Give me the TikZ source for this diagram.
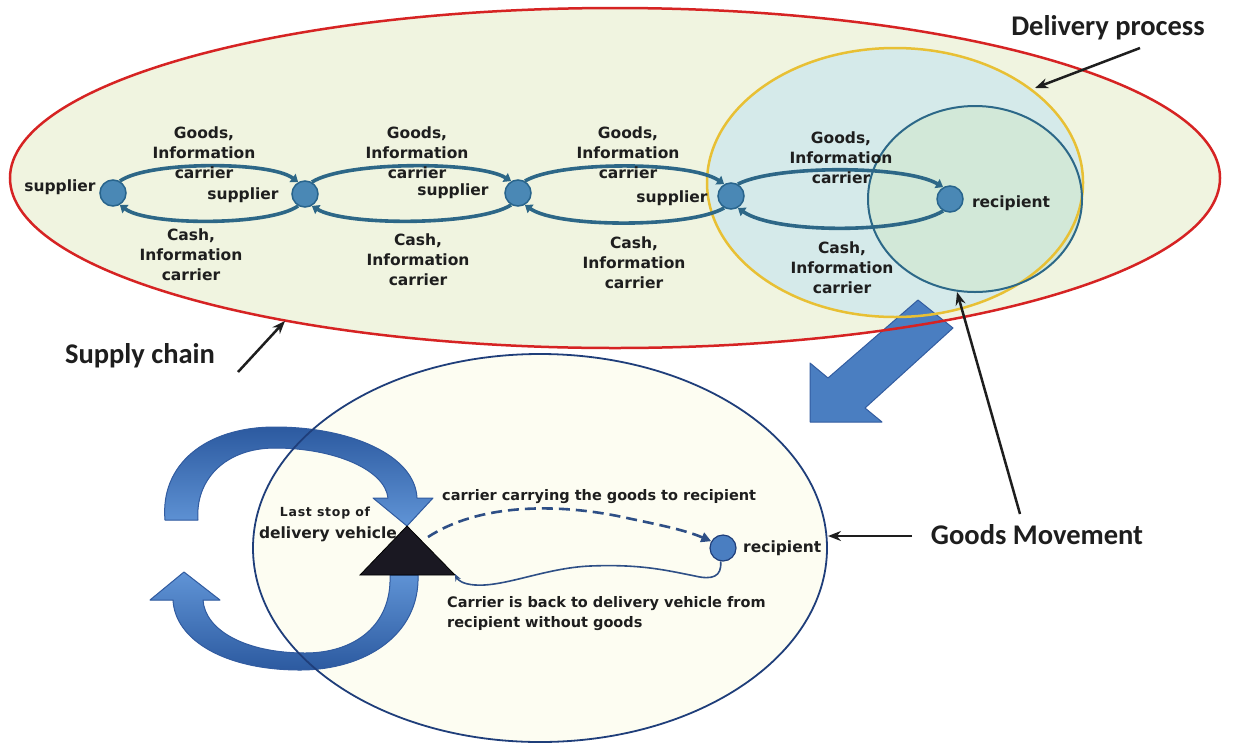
\documentclass[tikz,border=0pt]{standalone}
\usepackage{fontspec}
\setmainfont{DejaVu Sans}
\newfontfamily\bigfont{Carlito}
\usetikzlibrary{arrows.meta}
\definecolor{redE}{RGB}{214,35,35}
\definecolor{fillTop}{RGB}{240,244,224}
\definecolor{yelE}{RGB}{232,192,52}
\definecolor{fillDel}{RGB}{213,234,234}
\definecolor{fillRec}{RGB}{210,232,216}
\definecolor{recE}{RGB}{44,104,136}
\definecolor{loopC}{RGB}{45,103,135}
\definecolor{nodeF}{RGB}{74,136,181}
\definecolor{nodeE}{RGB}{40,100,140}
\definecolor{arrF}{RGB}{74,126,193}
\definecolor{arrD}{RGB}{44,90,160}
\definecolor{arrL}{RGB}{96,148,214}
\definecolor{arrE}{RGB}{50,92,160}
\definecolor{botF}{RGB}{253,253,242}
\definecolor{botE}{RGB}{31,62,122}
\definecolor{txt}{RGB}{30,30,30}
\definecolor{dashC}{RGB}{46,79,134}
\tikzset{
  lbl/.style={font=\bfseries\fontsize{15.5}{20}\selectfont, text=txt, align=center, inner sep=0pt},
  smlbl/.style={font=\bfseries\fontsize{14.5}{20}\selectfont, text=txt, align=left, inner sep=0pt},
  biglbl/.style={font=\bigfont\bfseries\fontsize{28.5}{30}\selectfont, text=txt, inner sep=0pt},
  dot/.style={circle, fill=nodeF, draw=nodeE, line width=1.5pt, minimum size=26pt, inner sep=0pt},
  flow/.style={draw=loopC, line width=3.6pt, -{Triangle[length=7pt,width=10pt]}},
  pointer/.style={draw=txt, line width=2.5pt, -{Stealth[length=13pt,width=10pt]}},
  blockarrow/.style={fill=arrF, draw=arrE, line width=1pt, line join=round}
}
\begin{document}
\begin{tikzpicture}[x=1pt,y=-1pt]
\useasboundingbox (0,0) rectangle (1238,745);
\fill[white] (0,0) rectangle (1238,745);

% ---------- top: supply chain ----------
\fill[fillTop] (615,178) ellipse[x radius=605, y radius=170];
\fill[fillDel] (895,182.5) ellipse[x radius=188, y radius=134.5];
\fill[fillRec] (975,199) ellipse[x radius=107, y radius=93];

% big block arrow
\draw[blockarrow] (810,363) -- (828,378) -- (918,300) -- (953,328) -- (865,408) -- (882,422) -- (810,422) -- cycle;

\draw[redE, line width=2.5pt] (615,178) ellipse[x radius=605, y radius=170];
\draw[yelE, line width=2.5pt] (895,182.5) ellipse[x radius=188, y radius=134.5];
\draw[recE, line width=2pt] (975,199) ellipse[x radius=107, y radius=93];

\coordinate (redPt) at (285,321);
\coordinate (yelPt) at (1035,88);
\coordinate (recPt) at (957,292);

% nodes
\node[dot] (n1) at (113,193) {};
\node[dot] (n2) at (305,194) {};
\node[dot] (n3) at (518,193) {};
\node[dot] (n4) at (731,196) {};
\node[dot] (rc) at (950,199) {};

% flows
\draw[flow] (n1.60) .. controls (148,161) and (270,161) .. (n2.120);
\draw[flow] (n2.-120) .. controls (270,226) and (148,226) .. (n1.-60);
\draw[flow] (n2.60) .. controls (345,161) and (478,161) .. (n3.120);
\draw[flow] (n3.-120) .. controls (478,226) and (345,226) .. (n2.-60);
\draw[flow] (n3.60) .. controls (558,161) and (690,161) .. (n4.120);
\draw[flow] (n4.-120) .. controls (690,228) and (558,228) .. (n3.-60);
\draw[flow] (n4.60) .. controls (775,165) and (905,165) .. (rc.120);
\draw[flow] (rc.-120) .. controls (905,234) and (775,234) .. (n4.-60);

% labels
\node[lbl] (g1) at (204,153) {Goods,\\Information\\carrier};
\node[lbl] (g2) at (417,153) {Goods,\\Information\\carrier};
\node[lbl] (g3) at (628,153) {Goods,\\Information\\carrier};
\node[lbl] (g4) at (841,158) {Goods,\\Information\\carrier};
\node[lbl] (c1) at (191,255) {Cash,\\Information\\carrier};
\node[lbl] (c2) at (418,260) {Cash,\\Information\\carrier};
\node[lbl] (c3) at (634,263) {Cash,\\Information\\carrier};
\node[lbl] (c4) at (842,268) {Cash,\\Information\\carrier};
\node[lbl] (s1) at (60,187) {supplier};
\node[lbl] (s2) at (243,195) {supplier};
\node[lbl] (s3) at (453,191) {supplier};
\node[lbl] (s4) at (672,198) {supplier};
\node[lbl] (r1) at (1011,203) {recipient};

% big labels
\node[biglbl] (dp) at (1108,28) {Delivery process};
\node[biglbl] (sc) at (140,356) {Supply chain};
\node[biglbl] (gm) at (1037,535) {Goods Movement};
\coordinate (dpS) at (1140,48);
\coordinate (scS) at (238,372);
\coordinate (gmS) at (1020,514);
\coordinate (gmW) at (912,536);
\draw[pointer] (dpS) -- (yelPt);
\draw[pointer] (scS) -- (redPt);
\draw[pointer] (gmS) -- (recPt);

% ---------- bottom: goods movement ----------
\fill[botF] (540,548) ellipse[x radius=287, y radius=194];

% circular arrows
\draw[blockarrow, top color=arrD, bottom color=arrL] (165,520) .. controls (160,465) and (205,427) .. (275,427)
  .. controls (350,427) and (415,455) .. (417,498) -- (433,498) -- (407,526) -- (373,498) -- (388,498)
  .. controls (385,470) and (335,448) .. (275,448)
  .. controls (225,448) and (195,480) .. (198,520) -- cycle;
\draw[blockarrow, top color=arrL, bottom color=arrD] (390,575) -- (418,575) .. controls (420,635) and (365,670) .. (300,670)
  .. controls (225,670) and (175,640) .. (173,600) -- (150,600) -- (184,572) -- (220,600) -- (203,600)
  .. controls (205,630) and (245,653) .. (305,653)
  .. controls (355,653) and (392,625) .. (390,575) -- cycle;

\draw[botE, line width=1.8pt] (540,548) ellipse[x radius=287, y radius=194];
\coordinate (botPt) at (828,536);
\draw[pointer] (gmW) -- (botPt);

% triangle (last stop)
\draw[fill={rgb,255:red,26;green,24;blue,34}, draw=black, line width=0.8pt] (360,575) -- (407,526) -- (455,575) -- cycle;
\coordinate (triR) at (428,537);
\coordinate (triB) at (455,574);

\node[circle, fill=arrF, draw=botE, line width=1.2pt, minimum size=26pt, inner sep=0pt] (rb) at (723,548) {};

\draw[dashC, line width=2.6pt, dash pattern=on 11pt off 6pt, -{Triangle[length=10pt,width=10pt]}]
  (triR) .. controls (480,503) and (560,503) .. (627,518) .. controls (660,525) and (685,530) .. (rb.150);
\draw[dashC, line width=1.6pt, -{Stealth[length=7pt,width=6pt]}]
  (rb.-100) .. controls (722,577) and (712,580) .. (695,576)
  .. controls (665,570) and (640,564) .. (590,566)
  .. controls (545,568) and (505,587) .. (475,585)
  .. controls (462,584) and (458,580) .. (triB);

\node[font=\bfseries\fontsize{12.5}{14}\selectfont\addfontfeature{LetterSpace=6}, text=txt, inner sep=0pt] (ls) at (325,513) {Last stop of};
\node[lbl] (dv) at (328,534) {delivery vehicle};
\node[smlbl, anchor=west] (cc) at (442,497) {carrier carrying the goods to recipient};
\node[lbl, anchor=west] (r2) at (743,548) {recipient};
\node[smlbl, anchor=north west] (cb) at (447,596) {Carrier is back to delivery vehicle from\\recipient without goods};
\end{tikzpicture}
\end{document}
